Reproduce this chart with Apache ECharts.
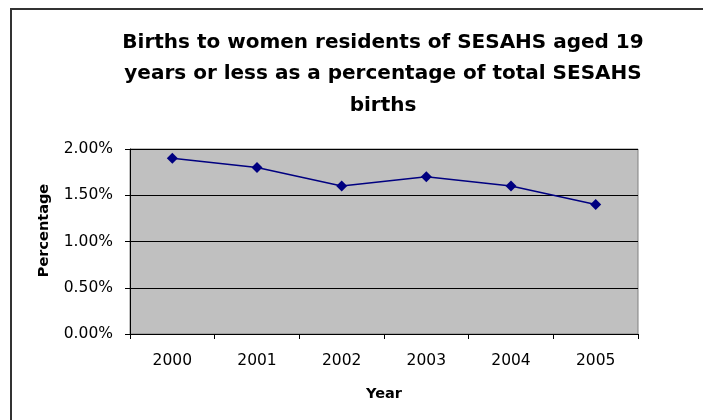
<!DOCTYPE html>
<html>
<head>
<meta charset="utf-8">
<script src="https://cdn.jsdelivr.net/npm/echarts@6/dist/echarts.min.js"></script>
<style>html,body{margin:0;padding:0;background:#fff;}#c{width:703px;height:420px;}</style>
</head>
<body>
<div id="c"></div>
<script>
const years = ['2000', '2001', '2002', '2003', '2004', '2005'];
const percentages = [1.9, 1.8, 1.6, 1.7, 1.6, 1.4];
const yTicks = { min: 0, max: 2, interval: 0.5 };

const FONT = 'DejaVu Sans';
const chart = echarts.init(document.getElementById('c'));
chart.setOption({
  animation: false,
  backgroundColor: '#ffffff',
  title: {
    text: 'Births to women residents of SESAHS aged 19\nyears or less as a percentage of total SESAHS\nbirths',
    left: 378, top: 22, textAlign: 'center',
    textStyle: { fontFamily: FONT, fontSize: 20, fontWeight: 'bold', color: '#000', lineHeight: 31.5 }
  },
  graphic: [{
    type: 'rect', shape: { x: 11, y: 9, width: 720, height: 440 },
    style: { fill: 'none', stroke: '#333', lineWidth: 2 }, silent: true, z: 100
  }],
  grid: {
    left: 130, right: 65, top: 149, bottom: 86,
    show: true, backgroundColor: '#C0C0C0', borderColor: '#808080', borderWidth: 1
  },
  xAxis: {
    type: 'category', data: years, boundaryGap: true,
    name: 'Year', nameLocation: 'middle', nameGap: 53,
    nameTextStyle: { fontFamily: FONT, fontSize: 14.5, fontWeight: 'bold', color: '#000' },
    axisLine: { lineStyle: { color: '#000', width: 1 } },
    axisTick: { show: true, length: 5, lineStyle: { color: '#000' } },
    axisLabel: { margin: 19, fontFamily: FONT, fontSize: 15.5, color: '#000' }
  },
  yAxis: {
    type: 'value', min: yTicks.min, max: yTicks.max, interval: yTicks.interval,
    name: 'Percentage', nameLocation: 'middle', nameGap: 78,
    nameTextStyle: { fontFamily: FONT, fontSize: 14.5, fontWeight: 'bold', color: '#000', padding: [0, 0, 0, 22] },
    axisLine: { show: true, lineStyle: { color: '#000', width: 1 } },
    axisTick: { show: true, length: 5, lineStyle: { color: '#000' } },
    axisLabel: { margin: 17, fontFamily: FONT, fontSize: 15.5, color: '#000',
      formatter: v => v.toFixed(2) + '%' },
    splitLine: { show: true, lineStyle: { color: '#000', width: 1 } }
  },
  series: [{
    type: 'line', data: percentages,
    symbol: 'diamond', symbolSize: 11,
    lineStyle: { color: '#000080', width: 1.5 },
    itemStyle: { color: '#000080' }
  }]
});
</script>
</body>
</html>
